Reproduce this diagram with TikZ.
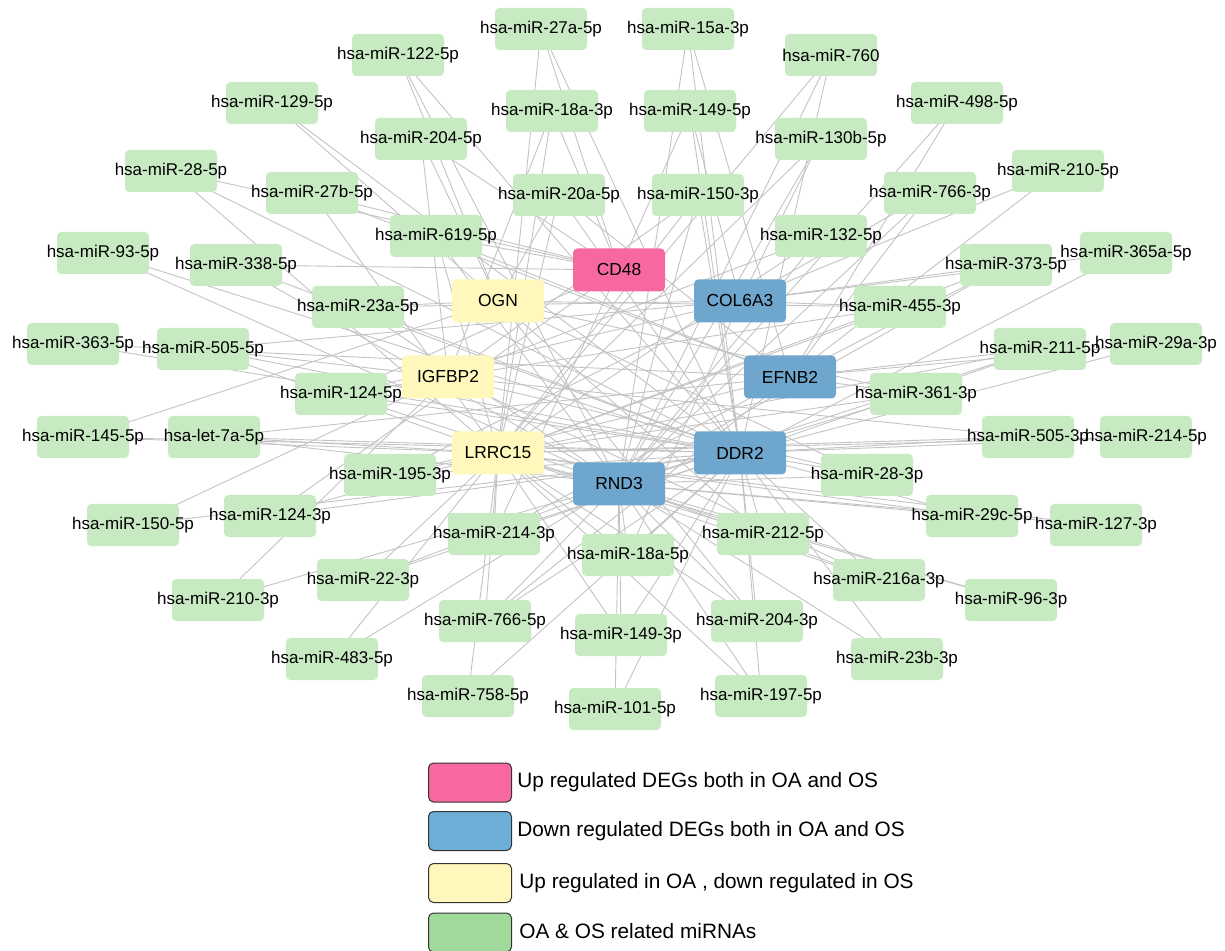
\documentclass[tikz,border=0pt]{standalone}
\usepackage{fontspec}
\setmainfont{Liberation Sans}
\usetikzlibrary{backgrounds}
\definecolor{mirfill}{RGB}{200,234,195}
\definecolor{pinkfill}{RGB}{247,104,161}
\definecolor{bluefill}{RGB}{111,166,205}
\definecolor{yelfill}{RGB}{255,247,188}
\definecolor{leggreen}{RGB}{161,217,155}
\definecolor{legblue}{RGB}{107,174,214}
\definecolor{edgegray}{RGB}{195,195,195}
\tikzset{
  mirbox/.style={fill=mirfill, rounded corners=2.2pt, minimum width=46pt, minimum height=21pt, inner sep=0pt, font=\fontsize{8.5}{10}\selectfont},
  genebox/.style={rounded corners=2.2pt, minimum width=46pt, minimum height=21.5pt, inner sep=0pt, font=\fontsize{8.7}{10}\selectfont},
  legbox/.style={draw=black!80, line width=0.5pt, rounded corners=2.5pt, minimum width=41.5pt, minimum height=19.5pt, inner sep=0pt},
  legtext/.style={anchor=west, inner sep=0pt, font=\fontsize{10.4}{12}\selectfont},
  edge/.style={draw=edgegray, line width=0.45pt}
}
\newcommand{\mirnode}[3]{\node[mirbox] (#1) at (#2) {\makebox[0pt]{#3}};}
\begin{document}
\begin{tikzpicture}[x=0.5pt, y=-0.5pt]
\useasboundingbox (0,0) rectangle (1225,951);
% gene nodes
\node[genebox, fill=pinkfill] (cd) at (619,270) {CD48};
\node[genebox, fill=yelfill] (ogn) at (498,301) {OGN};
\node[genebox, fill=bluefill] (col) at (740,301) {COL6A3};
\node[genebox, fill=yelfill] (igf) at (448,377) {IGFBP2};
\node[genebox, fill=bluefill] (efn) at (790,377) {EFNB2};
\node[genebox, fill=yelfill] (lrr) at (498,453) {LRRC15};
\node[genebox, fill=bluefill] (ddr) at (740,453) {DDR2};
\node[genebox, fill=bluefill] (rnd) at (619,484) {RND3};
% miRNA nodes
\mirnode{m27a5p}{541,29}{hsa-miR-27a-5p}
\mirnode{m15a3p}{688,29}{hsa-miR-15a-3p}
\mirnode{m122}{398,55}{hsa-miR-122-5p}
\mirnode{m760}{831,55}{hsa-miR-760}
\mirnode{m18a3p}{552,111}{hsa-miR-18a-3p}
\mirnode{m1495p}{690,111}{hsa-miR-149-5p}
\mirnode{m129}{272,103}{hsa-miR-129-5p}
\mirnode{m498}{957,103}{hsa-miR-498-5p}
\mirnode{m2045p}{421,139}{hsa-miR-204-5p}
\mirnode{m130b}{821,139}{hsa-miR-130b-5p}
\mirnode{m285p}{171,171}{hsa-miR-28-5p}
\mirnode{m2105p}{1058,171}{hsa-miR-210-5p}
\mirnode{m27b}{312,193}{hsa-miR-27b-5p}
\mirnode{m20a}{559,195}{hsa-miR-20a-5p}
\mirnode{m1503p}{698,195}{hsa-miR-150-3p}
\mirnode{m7663p}{930,193}{hsa-miR-766-3p}
\mirnode{m619}{436,236}{hsa-miR-619-5p}
\mirnode{m132}{821,236}{hsa-miR-132-5p}
\mirnode{m93}{103,253}{hsa-miR-93-5p}
\mirnode{m338}{236,265}{hsa-miR-338-5p}
\mirnode{m373}{1006,265}{hsa-miR-373-5p}
\mirnode{m365a}{1126,253}{hsa-miR-365a-5p}
\mirnode{m23a}{358,307}{hsa-miR-23a-5p}
\mirnode{m455}{900,307}{hsa-miR-455-3p}
\mirnode{m363}{73,344}{hsa-miR-363-5p}
\mirnode{m5055p}{203,349}{hsa-miR-505-5p}
\mirnode{m211}{1040,349}{hsa-miR-211-5p}
\mirnode{m29a}{1156,344}{hsa-miR-29a-3p}
\mirnode{m1245p}{341,394}{hsa-miR-124-5p}
\mirnode{m361}{916,394}{hsa-miR-361-3p}
\mirnode{m145}{83,437}{hsa-miR-145-5p}
\mirnode{let7a}{214,437}{hsa-let-7a-5p}
\mirnode{m5053p}{1028,437}{hsa-miR-505-3p}
\mirnode{m2145p}{1146,437}{hsa-miR-214-5p}
\mirnode{m195}{390,475}{hsa-miR-195-3p}
\mirnode{m283p}{867,475}{hsa-miR-28-3p}
\mirnode{m1243p}{270,516}{hsa-miR-124-3p}
\mirnode{m29c}{972,516}{hsa-miR-29c-5p}
\mirnode{m1505p}{133,525}{hsa-miR-150-5p}
\mirnode{m127}{1096,525}{hsa-miR-127-3p}
\mirnode{m2143p}{494,534}{hsa-miR-214-3p}
\mirnode{m212}{763,534}{hsa-miR-212-5p}
\mirnode{m18a5p}{628,555}{hsa-miR-18a-5p}
\mirnode{m216a}{879,580}{hsa-miR-216a-3p}
\mirnode{m22}{363,580}{hsa-miR-22-3p}
\mirnode{m96}{1011,600}{hsa-miR-96-3p}
\mirnode{m2103p}{218,600}{hsa-miR-210-3p}
\mirnode{m7665p}{485,621}{hsa-miR-766-5p}
\mirnode{m2043p}{757,621}{hsa-miR-204-3p}
\mirnode{m1493p}{621,635}{hsa-miR-149-3p}
\mirnode{m23b}{897,659}{hsa-miR-23b-3p}
\mirnode{m483}{332,659}{hsa-miR-483-5p}
\mirnode{m758}{468,696}{hsa-miR-758-5p}
\mirnode{m101}{615,709}{hsa-miR-101-5p}
\mirnode{m197}{761,696}{hsa-miR-197-5p}
% edges
\begin{scope}[on background layer]
\foreach \a/\b in {
 m27a5p/lrr, m27a5p/cd, m27a5p/ddr,
 m15a3p/rnd, m15a3p/ddr, m15a3p/efn,
 m122/ogn, m122/ddr, m122/rnd,
 m760/lrr, m760/rnd, m760/ddr,
 m129/ogn, m129/ddr,
 m498/efn, m498/rnd,
 m18a3p/lrr, m18a3p/igf, m18a3p/cd,
 m1495p/cd, m1495p/ddr, m1495p/col,
 m2045p/igf, m2045p/ogn, m2045p/cd,
 m130b/rnd, m130b/lrr, m130b/col,
 m285p/cd, m285p/ddr, m285p/lrr,
 m2105p/efn, m2105p/col,
 m27b/cd, m27b/lrr, m27b/efn,
 m20a/lrr, m20a/efn, m20a/ddr, m20a/ogn,
 m1503p/lrr, m1503p/ddr, m1503p/rnd, m1503p/igf,
 m7663p/col, m7663p/rnd, m7663p/efn,
 m619/cd, m619/rnd, m619/efn, m619/lrr,
 m132/rnd, m132/lrr, m132/igf,
 m93/ddr, m93/rnd,
 m338/cd, m338/rnd, m338/ddr,
 m373/col, m373/efn, m373/rnd, m373/lrr,
 m365a/ddr, m365a/col,
 m23a/ogn, m23a/col, m23a/ddr, m23a/rnd,
 m455/col, m455/igf, m455/lrr, m455/ogn,
 m363/efn, m363/ddr,
 m5055p/igf, m5055p/ddr, m5055p/lrr, m5055p/col,
 m211/efn, m211/ddr, m211/rnd, m211/lrr,
 m29a/efn, m29a/ddr,
 m1245p/igf, m1245p/col, m1245p/ddr, m1245p/rnd, m1245p/cd,
 m361/efn, m361/lrr, m361/ogn, m361/rnd,
 m145/ogn, m145/lrr, m145/ddr,
 let7a/efn, let7a/lrr, let7a/ddr, let7a/rnd,
 m5053p/lrr, m5053p/ddr, m5053p/igf,
 m2145p/ddr, m2145p/lrr,
 m195/lrr, m195/ddr, m195/col, m195/efn,
 m283p/ddr, m283p/igf, m283p/ogn, m283p/rnd,
 m1243p/ddr, m1243p/cd, m1243p/lrr,
 m29c/rnd, m29c/lrr, m29c/ddr,
 m1505p/igf, m1505p/ddr,
 m127/rnd, m127/lrr,
 m2143p/lrr, m2143p/ddr, m2143p/efn, m2143p/cd,
 m212/ddr, m212/rnd, m212/lrr, m212/ogn,
 m18a5p/rnd, m18a5p/ddr, m18a5p/lrr, m18a5p/col,
 m216a/rnd, m216a/ddr, m216a/lrr, m216a/igf,
 m22/ddr, m22/lrr, m22/rnd,
 m96/rnd, m96/lrr,
 m2103p/igf, m2103p/rnd,
 m7665p/lrr, m7665p/ddr, m7665p/efn, m7665p/rnd,
 m2043p/ddr, m2043p/rnd, m2043p/lrr, m2043p/ogn,
 m1493p/rnd, m1493p/lrr, m1493p/ddr,
 m23b/ddr, m23b/rnd,
 m483/lrr, m483/rnd,
 m758/lrr, m758/ddr,
 m101/rnd, m101/ddr,
 m197/ddr, m197/rnd, m197/lrr}
 \draw[edge] (\a.center) -- (\b.center);
\end{scope}
% legend
\node[legbox, fill=pinkfill] (l1) at (470,782.5) {};
\node[legbox, fill=legblue] (l2) at (470,831) {};
\node[legbox, fill=yelfill] (l3) at (470,883) {};
\node[legbox, fill=leggreen] (l4) at (470,932.5) {};
\node[legtext] (t1) at (517,782) {Up regulated DEGs both in OA and OS};
\node[legtext] (t2) at (517,831) {Down regulated DEGs both in OA and OS};
\node[legtext] (t3) at (519,883) {Up regulated in OA , down regulated in OS};
\node[legtext] (t4) at (519,931) {OA \& OS related miRNAs};
\end{tikzpicture}
\end{document}
